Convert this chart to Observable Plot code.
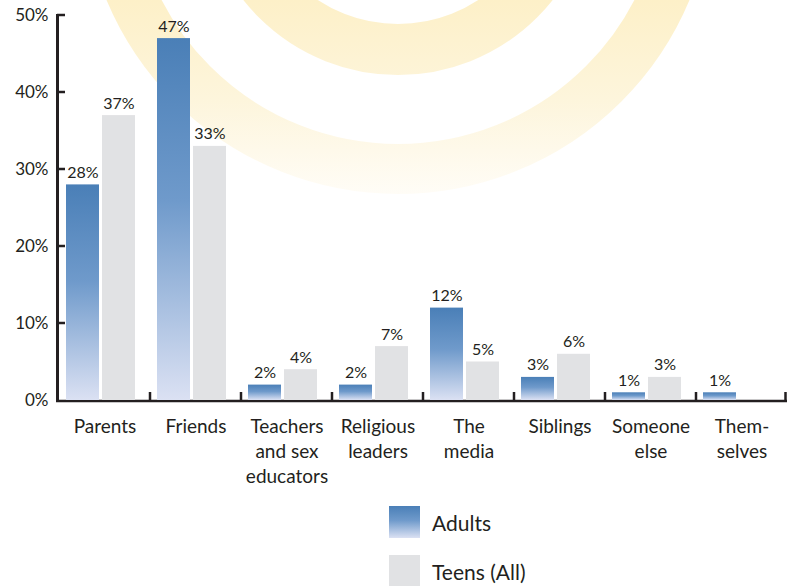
<!DOCTYPE html>
<html><head><meta charset="utf-8">
<script src="https://cdn.jsdelivr.net/npm/d3@7"></script>
<script src="https://cdn.jsdelivr.net/npm/@observablehq/plot@0.6"></script>
<style>
body{margin:0;background:#fff;font-family:Lato,"Open Sans",sans-serif;}
#wrap{position:relative;width:791px;height:586px;overflow:hidden}
#legend{position:absolute;left:389px;top:506px;}
.row{display:flex;align-items:center;height:32px;margin-bottom:17px}
.sw{width:31px;height:32px;margin-right:12px}
.lab{font-size:21px;color:#231f20}
</style></head>
<body><div id="wrap"><div id="chart"></div><div id="legend"></div></div>
<script>
const categories = ["Parents", "Friends", "Teachers\nand sex\neducators", "Religious\nleaders", "The\nmedia", "Siblings", "Someone\nelse", "Them-\nselves"];
const adults = [28, 47, 2, 2, 12, 3, 1, 1];
const teens = [37, 33, 4, 7, 5, 6, 3, null];
const seriesNames = ["Adults", "Teens (All)"];
const yTicks = [0, 10, 20, 30, 40, 50];

const rows = categories.flatMap((c, i) => [
  {category: c, series: seriesNames[0], value: adults[i]},
  {category: c, series: seriesNames[1], value: teens[i]}
]).filter(d => d.value != null);

const ink = "#231f20";
const chart = Plot.plot({
  width: 791, height: 495,
  marginLeft: 56, marginRight: 2, marginTop: 15, marginBottom: 95,
  style: {fontFamily: "Lato, 'Open Sans', sans-serif", color: ink, background: "transparent", overflow: "visible"},
  fx: {domain: categories, padding: 0, axis: null, label: null},
  x: {domain: seriesNames, paddingInner: 3/37, paddingOuter: 0.278, align: 0.33, axis: null, label: null},
  y: {domain: [0, 50], label: null},
  marks: [
    Plot.barY(rows.filter(d => d.series === seriesNames[0]), {fx: "category", x: "series", y: "value", fill: "url(#adultGrad)"}),
    Plot.barY(rows.filter(d => d.series === seriesNames[1]), {fx: "category", x: "series", y: "value", fill: "#e1e2e4"}),
    Plot.text(rows, {fx: "category", x: "series", y: "value", text: d => d.value + "%", dy: -7, lineAnchor: "bottom", fontSize: 16, fill: ink}),
    Plot.axisY(yTicks, {tickFormat: d => d + "%", tickSize: 0, tickPadding: 11, fontSize: 17, fill: ink, label: null}),
    Plot.text(categories, {fx: d => d, text: d => d, frameAnchor: "bottom", lineAnchor: "top", dy: 15, fontSize: 19, lineHeight: 25/19, fill: ink})
  ]
});
document.getElementById("chart").appendChild(chart);

// decoration + axis lines using the plot's own scales
const svg = d3.select(chart);
const fx = chart.scale("fx"), y = chart.scale("y");
const x0 = fx.apply(categories[0]);
const xEnd = fx.apply(categories[categories.length - 1]) + fx.bandwidth;
const g = svg.insert("g", ":first-child");
const defs = g.append("defs");
const ag = defs.append("linearGradient").attr("id", "adultGrad").attr("x1", 0).attr("y1", 0).attr("x2", 0).attr("y2", 1);
ag.append("stop").attr("offset", 0).attr("stop-color", "#4a7fb7");
ag.append("stop").attr("offset", 0.45).attr("stop-color", "#6f9acb");
ag.append("stop").attr("offset", 1).attr("stop-color", "#dbe1f3");
const yg = defs.append("linearGradient").attr("id", "sunGrad").attr("gradientUnits", "userSpaceOnUse").attr("x1", 0).attr("y1", 0).attr("x2", 0).attr("y2", 200);
yg.append("stop").attr("offset", 0).attr("stop-color", "#fdf0c8");
yg.append("stop").attr("offset", 0.5).attr("stop-color", "#fdf5dc");
yg.append("stop").attr("offset", 1).attr("stop-color", "#fffdf8");
[[171.5, 51], [291, 50]].forEach(([r, w]) => {
  g.append("circle").attr("cx", 398).attr("cy", -122).attr("r", r).attr("fill", "none").attr("stroke", "url(#sunGrad)").attr("stroke-width", w);
});
const y0 = y.apply(0);
g.append("line").attr("x1", x0 - 3).attr("x2", xEnd).attr("y1", y0 + 1).attr("y2", y0 + 1).attr("stroke", ink).attr("stroke-width", 2.5);
g.append("line").attr("x1", x0 - 1.5).attr("x2", x0 - 1.5).attr("y1", y.apply(50) - 1).attr("y2", y0 + 2).attr("stroke", ink).attr("stroke-width", 3);
yTicks.filter(t => t > 0).forEach(t => {
  g.append("line").attr("x1", x0 - 2).attr("x2", x0 + 6).attr("y1", y.apply(t)).attr("y2", y.apply(t)).attr("stroke", ink).attr("stroke-width", 2.5);
});
categories.slice(1).map(c => fx.apply(c)).concat([xEnd - 1.5]).forEach(xx => {
  g.append("line").attr("x1", xx).attr("x2", xx).attr("y1", y0 + 1).attr("y2", y0 - 8).attr("stroke", ink).attr("stroke-width", 2.5);
});

// legend
const legend = d3.select("#legend");
const swatches = ["linear-gradient(#4a7fb7, #6f9acb 45%, #dbe1f3)", "#e1e2e4"];
seriesNames.forEach((s, i) => {
  const row = legend.append("div").attr("class", "row");
  row.append("div").attr("class", "sw").style("background", swatches[i]);
  row.append("div").attr("class", "lab").text(s);
});
</script>
</body></html>
